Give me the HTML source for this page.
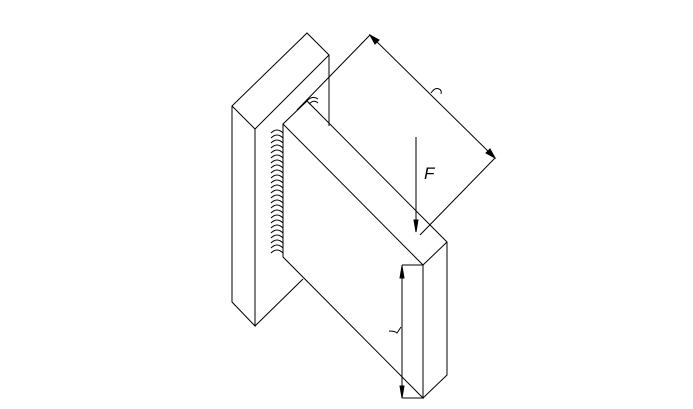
<!DOCTYPE html>
<html><head><style>html,body{margin:0;padding:0;background:#fff}svg{display:block}</style></head>
<body>
<svg width="693" height="409" viewBox="0 0 693 409" xmlns="http://www.w3.org/2000/svg" fill="none" stroke="#000" stroke-width="1">
<!-- back plate -->
<path d="M232,106 L307,33 L329,55 L255,129 Z"/>
<path d="M232,106 V302 L255,326 V129"/>
<path d="M329,55 V126"/>
<path d="M255,326 L303,279"/>
<!-- front plate -->
<path d="M283,124 L307,101 L447,242 L423,265 Z"/>
<path d="M283,124 V257 L423,398 V265"/>
<path d="M447,242 V375 L423,398"/>
<!-- weld bead -->
<path d="M271,133 q6,-6 12,0 M271,138 q6,-6 12,0 M271,143 q6,-6 12,0 M271,148 q6,-6 12,0 M271,153 q6,-6 12,0 M271,158 q6,-6 12,0 M271,163 q6,-6 12,0 M271,168 q6,-6 12,0 M271,173 q6,-6 12,0 M271,178 q6,-6 12,0 M271,183 q6,-6 12,0 M271,188 q6,-6 12,0 M271,193 q6,-6 12,0 M271,198 q6,-6 12,0 M271,203 q6,-6 12,0 M271,208 q6,-6 12,0 M271,213 q6,-6 12,0 M271,218 q6,-6 12,0 M271,223 q6,-6 12,0 M271,228 q6,-6 12,0 M271,233 q6,-6 12,0 M271,238 q6,-6 12,0 M271,243 q6,-6 12,0 M271,248 q6,-6 12,0 M271,253 q6,-6 12,0"/>
<path d="M307,101 q5,-6 11,-2 M309,104 q5,-5 9,-1"/>
<!-- top dimension -->
<path d="M297,110 L370,35 L495,158 L420,235"/>
<path d="M370,35 l9,5 l-4,4 Z M495,158 l-9,-5 l4,-4 Z" fill="#000"/>
<path d="M431,93 q4,-6 8,-4 q3,1 2,5"/>
<!-- force -->
<path d="M416,137 V232"/>
<path d="M414,220 h4 l-2,12 Z" fill="#000"/>
<text x="424" y="179" font-family="Liberation Sans, sans-serif" font-size="17" font-style="italic" fill="#000" stroke="none">F</text>
<!-- side dimension -->
<path d="M402,265 H423 M402,398 H423 M402,265 V398"/>
<path d="M400,278 h4 l-2,-12 Z M400,386 h4 l-2,12 Z" fill="#000"/>
<path d="M389,331 q6,0 8,2 q2,-3 4,-6"/>
</svg>
</body></html>
